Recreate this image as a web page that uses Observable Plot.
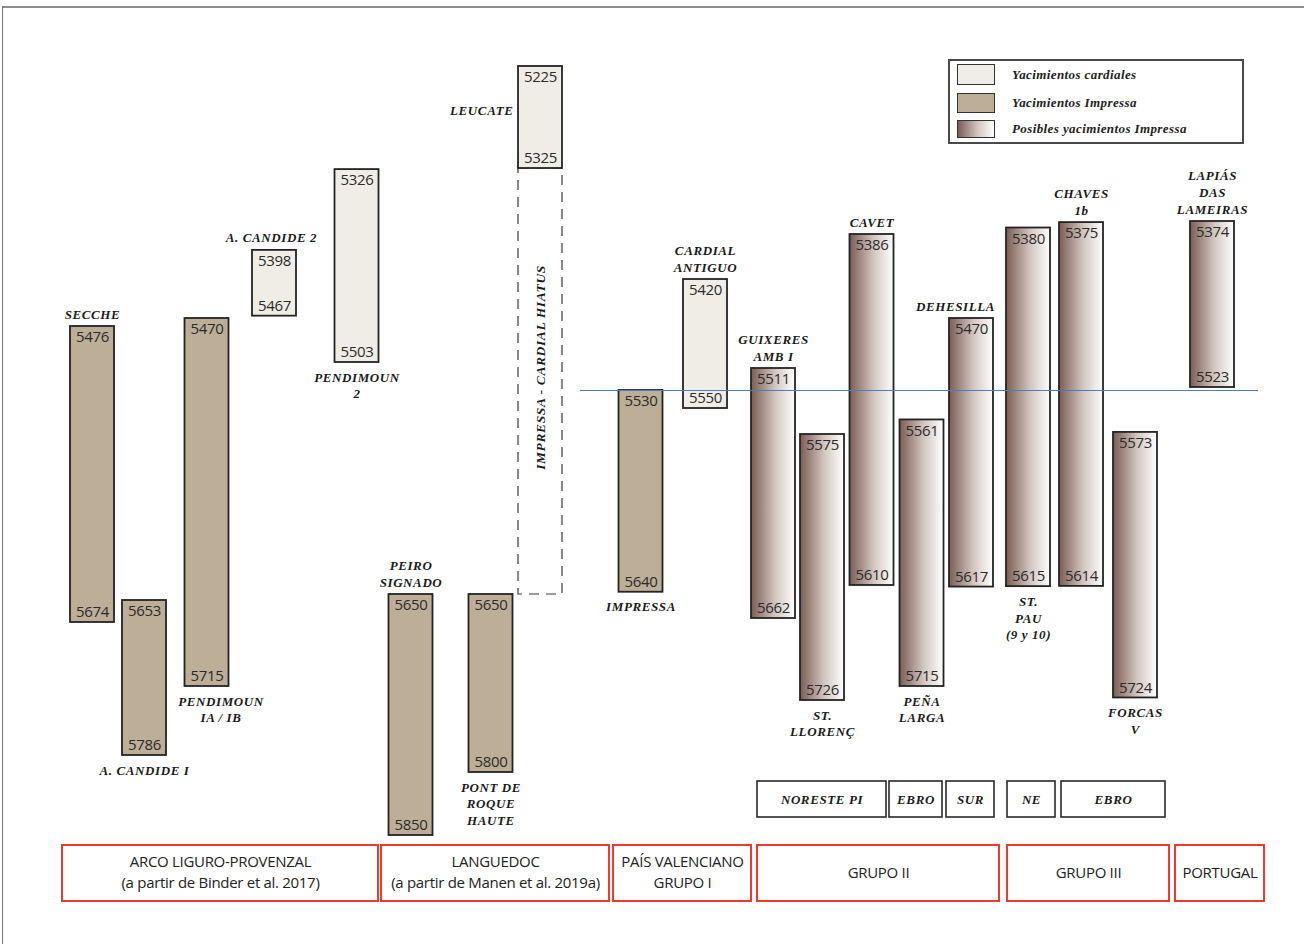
<!DOCTYPE html>
<html>
<head>
<meta charset="utf-8">
<script src="https://cdn.jsdelivr.net/npm/d3@7"></script>
<script src="https://cdn.jsdelivr.net/npm/@observablehq/plot@0.6"></script>
<style>
html,body{margin:0;padding:0;background:#fff;}
#wrap{position:relative;width:1304px;height:944px;overflow:hidden;background:#fff;}
#frame{position:absolute;left:2px;top:6px;width:1320px;height:960px;border-top:2px solid #8c8c8c;border-left:1px solid #777;box-sizing:border-box;pointer-events:none;}
#chart{position:absolute;left:0;top:0;}
#legend{position:absolute;left:948px;top:59px;width:296px;height:85px;border:2px solid #4a4a4a;box-sizing:border-box;background:#fff;}
.item{position:absolute;left:7px;display:flex;align-items:center;}
.sw{width:38px;height:20px;border:1.5px solid #333;box-sizing:border-box;}
.lab{margin-left:17px;font:italic bold 13px "Liberation Serif";color:#222;letter-spacing:0.4px;}
</style>
</head>
<body>
<div id="wrap">
  <div id="chart"></div>
  <div id="frame"></div>
  <div id="legend">
    <div class="item" style="top:3px"><div class="sw" style="background:#f0ede6;height:21px"></div><div class="lab">Yacimientos cardiales</div></div>
    <div class="item" style="top:32px"><div class="sw" style="background:#bdae97"></div><div class="lab">Yacimientos Impressa</div></div>
    <div class="item" style="top:59px"><div class="sw" style="background:linear-gradient(to right,#7a5d54,#d3c6c0 55%,#ffffff);height:18px"></div><div class="lab">Posibles yacimientos Impressa</div></div>
  </div>
</div>
<script>
// ---------------- data ----------------
const sites = ["SECCHE","A. CANDIDE I","PENDIMOUN\nIA / IB","A. CANDIDE 2","PENDIMOUN\n2","PEIRO\nSIGNADO","PONT DE\nROQUE\nHAUTE","LEUCATE","IMPRESSA","CARDIAL\nANTIGUO","GUIXERES\nAMB I","ST.\nLLORENÇ","CAVET","PEÑA\nLARGA","DEHESILLA","ST.\nPAU\n(9 y 10)","CHAVES\n1b","FORCAS\nV","LAPIÁS\nDAS\nLAMEIRAS"];
const startBP = [5476,5653,5470,5398,5326,5650,5650,5225,5530,5420,5511,5575,5386,5561,5470,5380,5375,5573,5374];
const endBP   = [5674,5786,5715,5467,5503,5850,5800,5325,5640,5550,5662,5726,5610,5715,5617,5615,5614,5724,5523];
const kind    = ["impressa","impressa","impressa","cardial","cardial","impressa","impressa","cardial","impressa","cardial","possible","possible","possible","possible","possible","possible","possible","possible","possible"];
const labelSide = ["above","below","below","above","below","above","below","left","below","above","above","below","above","below","above","below","above","below","above"];
const hiatusEnd = 5650;
const hiatusText = "IMPRESSA - CARDIAL HIATUS";
const thresholdBP = 5530;

const regionNames = ["ARCO LIGURO-PROVENZAL\n(a partir de Binder et al. 2017)","LANGUEDOC\n(a partir de Manen et al. 2019a)","PAÍS VALENCIANO\nGRUPO I","GRUPO II","GRUPO III","PORTUGAL"];
const subNames = ["NORESTE PI","EBRO","SUR","NE","EBRO"];

// ---------------- layout (columns, schematic time warp) ----------------
const slots = [1.84,2.88,4.13,5.48,7.13,8.21,9.81,10.8,12.81,14.1,15.46,16.44,17.43,18.43,19.42,20.56,21.62,22.7,24.24];
const halfW = 0.44;
const regionFrom = [1.24,7.62,12.26,15.14,20.14,23.5];
const regionTo   = [7.56,12.18,15.02,19.98,23.38,25.28];
const subFrom = [15.14,17.78,18.92,20.14,21.22];
const subTo   = [17.72,18.84,19.88,21.1,23.3];
const labelNudge = {"PENDIMOUN\nIA / IB": 0.28, "DEHESILLA": -0.32, "A. CANDIDE 2": -0.06};
const yKnots  = [5225,5325,5386,5420,5470,5503,5511,5523,5530,5550,5575,5610,5650,5662,5674,5715,5726,5786,5800,5850];
const yWarp   = [66,168,234,279,318,362,368,387,390,408,434,585,594,618,622,686,700,755,772,835];

const bars = sites.map((s,i)=>({site:s, slot:slots[i], start:startBP[i], end:endBP[i], kind:kind[i], side:labelSide[i]}));
const regions = regionNames.map((n,i)=>({name:n, from:regionFrom[i], to:regionTo[i]}));
const subs = subNames.map((n,i)=>({name:n, from:subFrom[i], to:subTo[i]}));

const warp = d3.scaleLinear(yKnots, yWarp);
const subBand = [warp.invert(781), warp.invert(817)];
const regionBand = [warp.invert(845), warp.invert(901)];
const leu = bars.find(d=>d.site==="LEUCATE");
const hiatusMid = warp.invert((warp(leu.end)+warp(hiatusEnd))/2 - 14);

const serif = {fontFamily:"Liberation Serif", fontStyle:"italic", fontWeight:"bold", fontSize:13, fill:"#1a1a1a"};
const nums = {fontFamily:"Open Sans", fontSize:15, fill:"#2b2b2b"};
const barStroke = {stroke:"#242424", strokeWidth:1.8};

const chart = Plot.plot({
  width:1304, height:944, margin:0,
  style:{background:"transparent", overflow:"visible"},
  x:{domain:[0,26.08], range:[0,1304], axis:null},
  y:{type:"linear", transform:warp, domain:[0,944], range:[0,944], axis:null},
  marks:[
    Plot.rect([leu], {x1:d=>d.slot-halfW, x2:d=>d.slot+halfW, y1:"end", y2:()=>hiatusEnd, fill:"none", stroke:"#3a3a3a", strokeWidth:1.2, strokeDasharray:"10,7"}),
    Plot.rect(bars.filter(d=>d.kind==="cardial"), {x1:d=>d.slot-halfW, x2:d=>d.slot+halfW, y1:"start", y2:"end", fill:"#f0ede6", ...barStroke}),
    Plot.rect(bars.filter(d=>d.kind==="impressa"), {x1:d=>d.slot-halfW, x2:d=>d.slot+halfW, y1:"start", y2:"end", fill:"#bdae97", ...barStroke}),
    Plot.rect(bars.filter(d=>d.kind==="possible"), {x1:d=>d.slot-halfW, x2:d=>d.slot+halfW, y1:"start", y2:"end", fill:"url(#possGrad)", ...barStroke}),
    Plot.ruleY([thresholdBP], {x1:11.6, x2:25.16, stroke:"#4d7cc3", strokeWidth:1.2}),
    Plot.text(bars, {x:"slot", y:"start", text:d=>String(d.start), dy:11, lineAnchor:"middle", ...nums}),
    Plot.text(bars, {x:"slot", y:"end", text:d=>String(d.end), dy:-10, lineAnchor:"middle", ...nums}),
    Plot.text(bars.filter(d=>d.side==="above"), {x:d=>d.slot+(labelNudge[d.site]||0), y:"start", text:"site", lineAnchor:"bottom", dy:-8, lineHeight:1.3, ...serif}),
    Plot.text(bars.filter(d=>d.side==="below"), {x:d=>d.slot+(labelNudge[d.site]||0), y:"end", text:"site", lineAnchor:"top", dy:7, lineHeight:1.3, ...serif}),
    Plot.text(bars.filter(d=>d.side==="left"), {x:d=>d.slot-halfW, y:d=>(d.start+d.end)/2, text:"site", textAnchor:"end", dx:-5, dy:-7, lineAnchor:"middle", ...serif}),
    Plot.text([leu], {x:"slot", y:()=>hiatusMid, text:()=>hiatusText, rotate:-90, lineAnchor:"middle", ...serif, fontSize:13.5}),
    Plot.rect(subs, {x1:"from", x2:"to", y1:()=>subBand[0], y2:()=>subBand[1], fill:"#fff", stroke:"#2a2a2a", strokeWidth:1.6}),
    Plot.text(subs, {x:d=>(d.from+d.to)/2, y:()=>(subBand[0]+subBand[1])/2, text:"name", lineAnchor:"middle", ...serif}),
    Plot.rect(regions, {x1:"from", x2:"to", y1:()=>regionBand[0], y2:()=>regionBand[1], fill:"none", stroke:"#ee3b2b", strokeWidth:2}),
    Plot.text(regions, {x:d=>(d.from+d.to)/2, y:()=>(regionBand[0]+regionBand[1])/2 - 2, text:"name", lineAnchor:"middle", lineHeight:1.4, fontFamily:"Open Sans", fontSize:15, fill:"#222"})
  ]
});

const defs = d3.select(chart).insert("defs", ":first-child");
const grad = defs.append("linearGradient").attr("id","possGrad").attr("x1","0").attr("x2","1").attr("y1","0").attr("y2","0");
grad.append("stop").attr("offset","0").attr("stop-color","#7a5d54");
grad.append("stop").attr("offset","0.55").attr("stop-color","#d3c6c0");
grad.append("stop").attr("offset","1").attr("stop-color","#ffffff");
d3.select(chart).selectAll('g[font-style="italic"]').attr("letter-spacing","0.6");
d3.select(chart).selectAll('g[font-family="Open Sans"]').attr("letter-spacing","-0.3");
document.getElementById("chart").appendChild(chart);
</script>
</body>
</html>
